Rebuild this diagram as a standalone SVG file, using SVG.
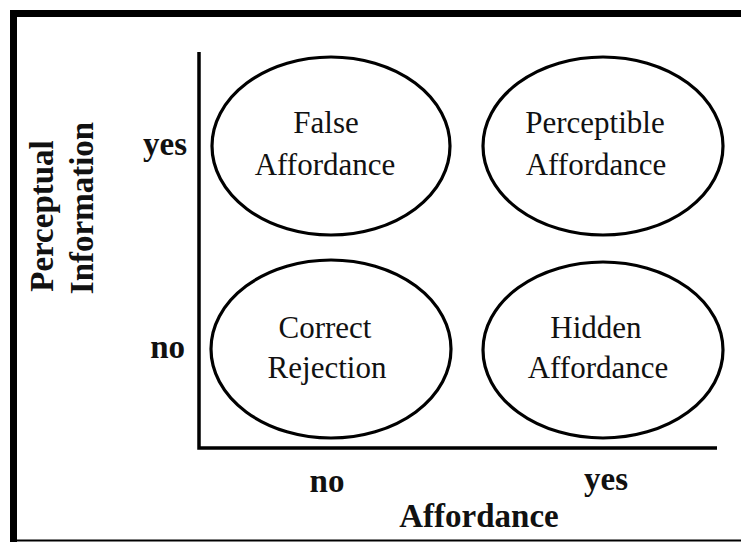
<svg xmlns="http://www.w3.org/2000/svg" width="741" height="542" viewBox="0 0 741 542">
<style>
.cell{fill:#fff;stroke:#000;stroke-width:3.2}
.lbl{font-family:"Liberation Serif","Times New Roman",serif;font-size:31px;fill:#111;text-anchor:middle}
.ax{font-family:"Liberation Serif","Times New Roman",serif;font-size:33px;font-weight:bold;fill:#111}
.axis{stroke:#000;stroke-width:3.5;fill:none}
</style>
<rect x="0" y="0" width="741" height="542" fill="#fff"/>
<g id="frame" fill="#000">
<rect x="10" y="10" width="731" height="7"/>
<rect x="10" y="10" width="7" height="532"/>
<rect x="10" y="539.5" width="731" height="2"/>
</g>
<g id="connectors">
<polyline class="axis" points="199,52 199,448 717,448"/>
</g>
<g id="false-affordance">
<ellipse class="cell" cx="331" cy="146" rx="119" ry="89"/>
<text class="lbl" x="326" y="133">False</text>
<text class="lbl" x="325" y="175">Affordance</text>
</g>
<g id="perceptible-affordance">
<ellipse class="cell" cx="603" cy="146" rx="120" ry="89"/>
<text class="lbl" x="595" y="133">Perceptible</text>
<text class="lbl" x="596" y="175">Affordance</text>
</g>
<g id="correct-rejection">
<ellipse class="cell" cx="331" cy="349" rx="120" ry="89"/>
<text class="lbl" x="325" y="338">Correct</text>
<text class="lbl" x="327" y="378">Rejection</text>
</g>
<g id="hidden-affordance">
<ellipse class="cell" cx="603" cy="350" rx="120" ry="88"/>
<text class="lbl" x="596" y="338">Hidden</text>
<text class="lbl" x="598" y="378">Affordance</text>
</g>
<g id="axis-labels">
<text class="ax" x="187" y="155" text-anchor="end">yes</text>
<text class="ax" x="185" y="358" text-anchor="end">no</text>
<text class="ax" x="327" y="492" text-anchor="middle">no</text>
<text class="ax" x="606" y="490" text-anchor="middle">yes</text>
<text class="ax" x="479" y="527" text-anchor="middle">Affordance</text>
<text class="ax" transform="translate(53,216) rotate(-90)" text-anchor="middle">Perceptual</text>
<text class="ax" transform="translate(93,208) rotate(-90)" text-anchor="middle">Information</text>
</g>
</svg>
